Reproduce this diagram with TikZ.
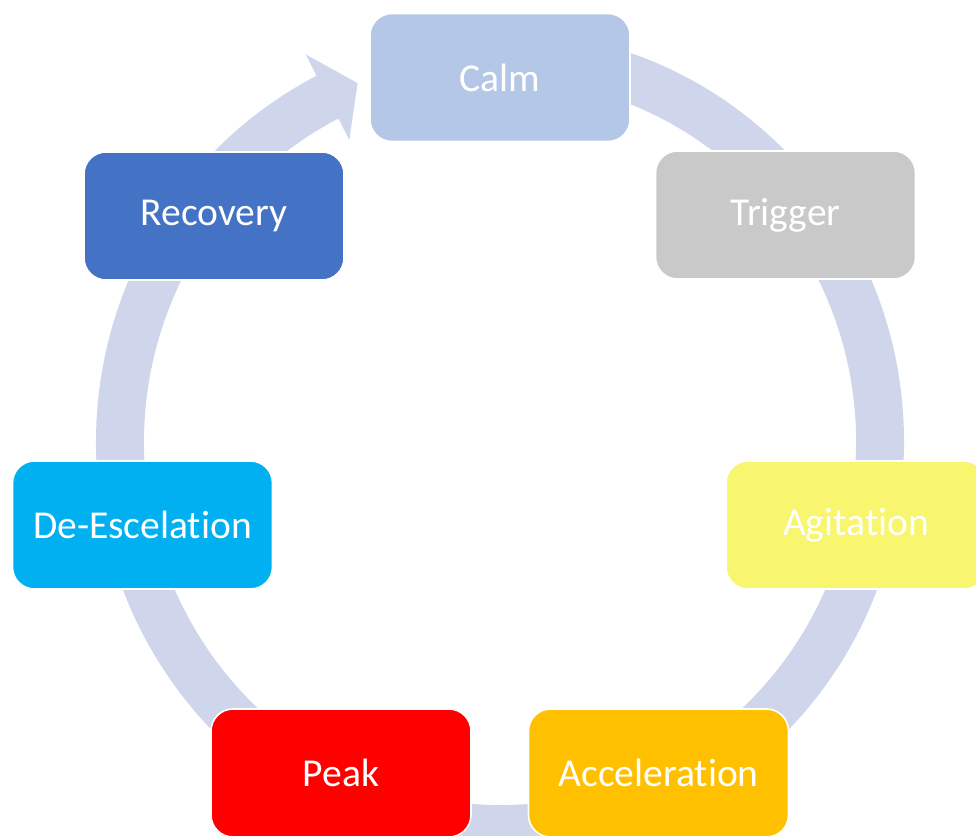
\documentclass[tikz,border=0pt]{standalone}
\usepackage{fontspec}
\setmainfont{Carlito}[Ligatures={NoCommon}]
\usepackage{xcolor}
\usepackage{tikz}
\usetikzlibrary{calc}
\definecolor{ringc}{RGB}{207,213,234}
\definecolor{calmc}{RGB}{180,199,231}
\definecolor{trigc}{RGB}{201,201,201}
\definecolor{agitc}{RGB}{248,245,110}
\definecolor{accelc}{RGB}{255,192,0}
\definecolor{peakc}{RGB}{255,0,0}
\definecolor{deescc}{RGB}{0,176,240}
\definecolor{recovc}{RGB}{68,114,196}

\begin{document}
\begin{tikzpicture}[
  stage/.style={draw=white, line width=0.9pt, rounded corners=0.44cm, align=center,
                minimum width=5.2cm, minimum height=2.56cm, inner sep=2pt,
                text=white, font=\fontsize{22.5}{27}\selectfont},
  ring/.style={fill=ringc}]
  \useasboundingbox (0,0) rectangle (19.52,16.70);
  \coordinate (c) at (10,7.86);
  % circular arrow behind the stages
  \fill[ring] ($(c)+(85:8.08 and 8.22)$)
      arc[start angle=85, end angle=-243, x radius=8.08, y radius=8.22]
      -- ($(c)+(117:8.56 and 8.70)$)
      -- ($(c)+(112:7.60 and 7.74)$)
      -- ($(c)+(117:6.64 and 6.78)$)
      -- ($(c)+(117:7.12 and 7.26)$)
      arc[start angle=-243, end angle=85, x radius=7.12, y radius=7.26]
      -- cycle;
  \node[stage, fill=calmc] (calm) at (10.0,15.15) {Calm};
  \node[stage, fill=trigc] (trigger) at (15.71,12.40) {Trigger};
  \node[stage, fill=agitc] (agitation) at (17.12,6.20) {Agitation};
  \node[stage, fill=accelc] (accel) at (13.17,1.24) {Acceleration};
  \node[stage, fill=peakc] (peak) at (6.82,1.24) {Peak};
  \node[stage, fill=deescc] (deesc) at (2.85,6.20) {De-Escelation};
  \node[stage, fill=recovc] (recovery) at (4.28,12.38) {Recovery};
\end{tikzpicture}
\end{document}
